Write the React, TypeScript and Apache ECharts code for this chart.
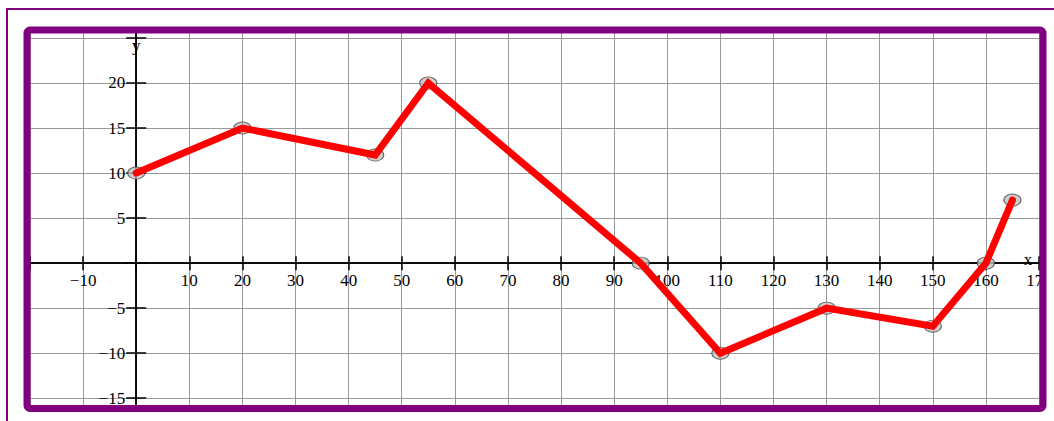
import React, { useEffect, useRef } from 'react';
import * as echarts from 'echarts';

const xValues = [0, 20, 45, 55, 95, 110, 130, 150, 160, 165];
const yValues = [10, 15, 12, 20, 0, -10, -5, -7, 0, 7];
const yTickValues = [-15, -10, -5, 0, 5, 10, 15, 20, 25];
const yLabelValues = [-15, -10, -5, 5, 10, 15, 20];
const xHiddenLabels = [-20, 0];
const xName = 'x';
const yName = 'y';

const FONT = 'Liberation Serif';
const PURPLE = '#800080';
const W = 1054;
const H = 421;
const G = { left: 30, right: 15, top: 33, bottom: 16 };
const fmt = (v: number) => String(v).replace('-', '\u2212');

export default function App() {
  const ref = useRef<HTMLDivElement>(null);
  useEffect(() => {
    document.body.style.margin = '0';
    const chart = echarts.init(ref.current!, null, { renderer: 'svg' });
    const points = xValues.map((x, i) => [x, yValues[i]]);
    const axisLineStyle = { color: '#000', width: 1.5 };
    const labelStyle = { fontFamily: FONT, fontSize: 17, color: '#000' };
    const build = (ox: number, oy: number) => ({
      animation: false,
      backgroundColor: '#fff',
      grid: { ...G, containLabel: false, outerBoundsMode: 'none' },
      xAxis: [
        {
          type: 'value', min: -20, max: 170, interval: 10, position: 'bottom', offset: -((H - G.bottom) - oy),
          axisLine: { onZero: false, lineStyle: axisLineStyle },
          axisTick: { show: true, length: 7, lineStyle: axisLineStyle },
          axisLabel: {
            ...labelStyle, margin: 9, hideOverlap: false,
            formatter: (v: number) => (xHiddenLabels.includes(v) ? '' : fmt(v)),
          },
          splitLine: { show: true, lineStyle: { color: '#999', width: 1 } },
        },
        {
          type: 'value', min: -20, max: 170, interval: 10, position: 'top', offset: -(oy - G.top),
          axisLine: { onZero: false, lineStyle: axisLineStyle },
          axisTick: { show: true, length: 7, lineStyle: axisLineStyle },
          axisLabel: { show: false },
          splitLine: { show: false },
        },
      ],
      yAxis: [
        {
          type: 'value', min: -15.75, max: 25.55, position: 'left', offset: -(ox - G.left),
          axisLine: { onZero: false, lineStyle: axisLineStyle },
          axisTick: { show: true, length: 10, customValues: yTickValues, lineStyle: axisLineStyle },
          axisLabel: { ...labelStyle, margin: 11, customValues: yLabelValues, formatter: (v: number) => fmt(v) },
          splitLine: { show: true, lineStyle: { color: '#999', width: 1 } },
        },
        {
          type: 'value', min: -15.75, max: 25.55, position: 'right', offset: -((W - G.right) - ox),
          axisLine: { onZero: false, lineStyle: axisLineStyle },
          axisTick: { show: true, length: 10, customValues: yTickValues, lineStyle: axisLineStyle },
          axisLabel: { show: false },
          splitLine: { show: false },
        },
      ],
      series: [
        {
          type: 'scatter', data: points, xAxisIndex: 0, yAxisIndex: 0, z: 2,
          symbol: 'circle', symbolSize: [17, 12],
          itemStyle: { color: '#c0c0c0', borderColor: '#444', borderWidth: 1 },
        },
        {
          type: 'line', data: points, xAxisIndex: 0, yAxisIndex: 0, z: 3,
          showSymbol: false, symbol: 'none',
          lineStyle: { color: '#ff0000', width: 7, join: 'miter', cap: 'round' },
        },
      ],
      graphic: [
        { type: 'rect', silent: true, z: 100, shape: { x: 7, y: 9, width: 1300, height: 700 }, style: { fill: 'none', stroke: PURPLE, lineWidth: 2 } },
        { type: 'rect', silent: true, z: 100, shape: { x: 1046, y: 13, width: 30, height: 420 }, style: { fill: '#fff' } },
        { type: 'rect', silent: true, z: 101, shape: { x: 27, y: 30, width: 1016, height: 378.5, r: 3 }, style: { fill: 'none', stroke: PURPLE, lineWidth: 7 } },
        { type: 'text', silent: true, z: 50, x: ox, y: 45, style: { text: yName, font: `17px "${FONT}"`, fill: '#000', textAlign: 'center', textVerticalAlign: 'middle' } },
        { type: 'text', silent: true, z: 50, x: 1028, y: oy - 4, style: { text: xName, font: `17px "${FONT}"`, fill: '#000', textAlign: 'center', textVerticalAlign: 'middle' } },
      ],
    });
    chart.setOption(build(136, 263));
    const p = chart.convertToPixel({ gridIndex: 0 }, [0, 0]) as number[];
    if (p && isFinite(p[0]) && isFinite(p[1])) {
      chart.setOption(build(p[0], p[1]), true);
    }
    return () => chart.dispose();
  }, []);
  return <div ref={ref} style={{ width: W, height: H }} />;
}
